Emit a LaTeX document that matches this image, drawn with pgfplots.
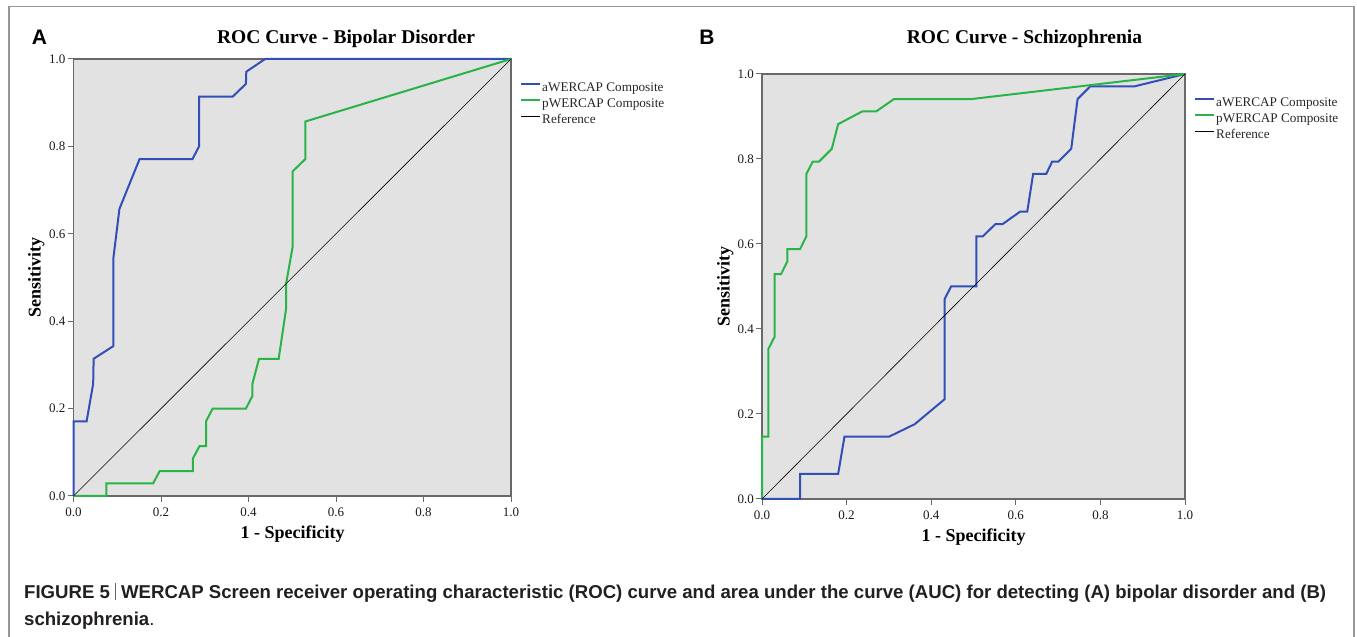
\documentclass[border=0pt]{standalone}
\usepackage{fontspec}
\setmainfont{Liberation Serif}
\newfontfamily\capfont{Liberation Sans}
\usepackage{pgfplots}
\pgfplotsset{compat=1.18}
\definecolor{bgc}{RGB}{226,226,226}
\definecolor{axc}{RGB}{105,105,105}
\definecolor{framec}{RGB}{150,150,150}
\definecolor{rblue}{RGB}{50,78,185}
\definecolor{rgreen}{RGB}{40,180,70}
\definecolor{captc}{RGB}{35,31,32}
\pgfplotsset{rocaxis/.style={
  scale only axis, anchor=south west, clip=false,
  xmin=0, xmax=1, ymin=0, ymax=1,
  axis background/.style={fill=bgc},
  axis line style={draw=axc, line width=1.2pt},
  xtick={0,0.2,0.4,0.6,0.8,1}, ytick={0,0.2,0.4,0.6,0.8,1},
  xtick pos=left, ytick pos=left,
  tick align=outside, major tick length=6pt,
  tick style={draw=axc, line width=1pt},
  /pgf/number format/assume math mode=true,
  xticklabel={\pgfmathprintnumber[fixed,fixed zerofill,precision=1]{\tick}},
  yticklabel={\pgfmathprintnumber[fixed,fixed zerofill,precision=1]{\tick}},
  tick label style={font=\fontsize{13}{13}\selectfont, text=black!90},
  xticklabel style={anchor=north, inner sep=0pt, yshift=-6pt},
  yticklabel style={anchor=east, inner sep=0pt, xshift=-2pt},
  legend cell align=left,
  legend image code/.code={\draw[#1] (0pt,3.5pt) -- (19pt,3.5pt);},
  legend style={at={(1,1)}, anchor=north west, xshift=9pt, yshift=-22pt,
    draw=none, fill=none, inner sep=0pt, row sep=3pt, column sep=1pt,
    font=\fontsize{13.2}{13.2}\selectfont, text=black!85,
    nodes={inner sep=0pt, text height=10pt, text depth=3pt}},
}}
\begin{document}
\begin{tikzpicture}
\path[use as bounding box] (0pt,0pt) rectangle (1357pt,637pt);
\draw[framec, line width=1.3pt] (9pt,-2pt) -- (9pt,630.3pt) -- (1354pt,630.3pt) -- (1354pt,-2pt);

% Panel A
\begin{axis}[rocaxis, at={(73.5pt,141pt)}, width=437.5pt, height=437pt]
\addplot[rblue, line width=2pt] coordinates {(0,0) (0,0.171) (0.030,0.171) (0.045,0.257) (0.046,0.314) (0.091,0.343) (0.091,0.543) (0.105,0.657) (0.151,0.771) (0.272,0.771) (0.287,0.800) (0.287,0.914) (0.364,0.914) (0.394,0.943) (0.395,0.971) (0.438,1) (1,1)};
\addlegendentry{aWERCAP Composite}
\addplot[rgreen, line width=2pt] coordinates {(0,0) (0.075,0) (0.075,0.029) (0.182,0.029) (0.197,0.057) (0.273,0.057) (0.273,0.086) (0.288,0.114) (0.303,0.114) (0.303,0.171) (0.318,0.200) (0.394,0.200) (0.409,0.229) (0.409,0.257) (0.424,0.314) (0.469,0.314) (0.486,0.429) (0.486,0.486) (0.501,0.571) (0.501,0.743) (0.530,0.771) (0.530,0.857) (1,1)};
\addlegendentry{pWERCAP Composite}
\addplot[black, line width=0.6pt] coordinates {(0,0) (1,1)};
\addlegendentry{Reference}
\end{axis}

% Panel B
\begin{axis}[rocaxis, at={(762pt,138pt)}, width=423pt, height=425pt]
\addplot[rblue, line width=2pt] coordinates {(0,0) (0.090,0) (0.090,0.059) (0.180,0.059) (0.195,0.147) (0.301,0.147) (0.361,0.176) (0.432,0.235) (0.432,0.471) (0.447,0.500) (0.507,0.500) (0.507,0.618) (0.522,0.618) (0.552,0.647) (0.569,0.647) (0.610,0.676) (0.627,0.676) (0.641,0.765) (0.672,0.765) (0.686,0.794) (0.701,0.794) (0.731,0.824) (0.746,0.941) (0.776,0.971) (0.881,0.971) (1,1)};
\addlegendentry{aWERCAP Composite}
\addplot[rgreen, line width=2pt] coordinates {(0,0) (0,0.147) (0.015,0.147) (0.015,0.353) (0.030,0.382) (0.030,0.529) (0.045,0.529) (0.060,0.559) (0.060,0.588) (0.090,0.588) (0.105,0.618) (0.105,0.765) (0.120,0.794) (0.135,0.794) (0.165,0.824) (0.180,0.882) (0.237,0.912) (0.270,0.912) (0.312,0.941) (0.495,0.941) (1,1)};
\addlegendentry{pWERCAP Composite}
\addplot[black, line width=0.6pt] coordinates {(0,0) (1,1)};
\addlegendentry{Reference}
\end{axis}

% Titles and labels
\node[anchor=base, font=\bfseries\fontsize{19.5}{19.5}\selectfont] at (346pt,593.4pt) {ROC Curve - Bipolar Disorder};
\node[anchor=base, font=\bfseries\fontsize{19.5}{19.5}\selectfont] at (1024.5pt,593pt) {ROC Curve - Schizophrenia};
\node[anchor=base, font=\capfont\bfseries\fontsize{21}{21}\selectfont] at (39.5pt,592pt) {A};
\node[anchor=base, font=\capfont\bfseries\fontsize{21}{21}\selectfont] at (707pt,592pt) {B};
\node[anchor=base, font=\bfseries\fontsize{18}{18}\selectfont] at (292.5pt,98.3pt) {1 - Specificity};
\node[anchor=base, font=\bfseries\fontsize{18}{18}\selectfont] at (973.5pt,95.5pt) {1 - Specificity};
\node[anchor=base, rotate=90, font=\bfseries\fontsize{18}{18}\selectfont] at (40.5pt,359.5pt) {Sensitivity};
\node[anchor=base, rotate=90, font=\bfseries\fontsize{18}{18}\selectfont] at (729.5pt,350.5pt) {Sensitivity};

% Caption
\node[anchor=base west, inner sep=0pt, text=captc, font=\capfont\fontsize{18.6}{18.6}\selectfont] at (24pt,38.7pt)
 {\textbf{FIGURE 5} {\color{black!60}\rule[-2pt]{0.8pt}{17.5pt}} \textbf{WERCAP Screen receiver operating characteristic (ROC) curve and area under the curve (AUC) for detecting (A) bipolar disorder and (B)}};
\node[anchor=base west, inner sep=0pt, text=captc, font=\capfont\fontsize{18.6}{18.6}\selectfont] at (24pt,11.5pt)
 {\textbf{schizophrenia}.};
\end{tikzpicture}
\end{document}
